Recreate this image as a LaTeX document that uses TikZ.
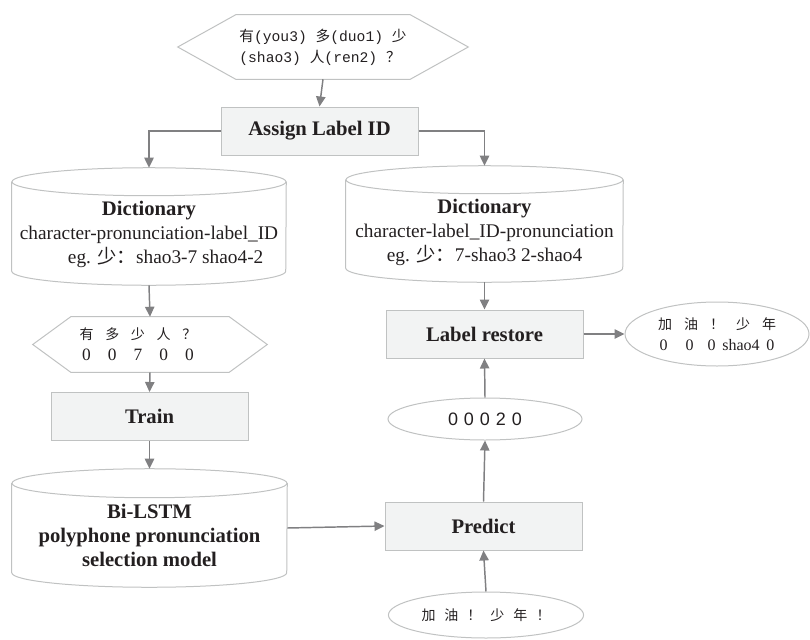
\documentclass[tikz,border=0pt]{standalone}
\usepackage{fontspec}
\setmainfont{Liberation Serif}
\newfontfamily\cjk{Noto Sans CJK SC}
\newfontfamily\arial{Liberation Sans}
\newfontfamily\mono{Liberation Mono}
\usetikzlibrary{arrows.meta,calc,shapes.geometric}
\definecolor{boxfill}{RGB}{242,243,243}
\definecolor{boxline}{RGB}{192,194,194}
\definecolor{arrowc}{RGB}{128,128,130}
\definecolor{txt}{RGB}{35,31,32}
\newcommand\cw[2]{\makebox[#1]{#2}}
\newcommand\cylout[3]{%
  \draw[outline] ($(#1.north west)+(0,-#3)$) -- ($(#1.south west)+(0,#3)$)
    arc[start angle=180,end angle=360,x radius=#2*0.75pt,y radius=#3*0.75pt]
    -- ($(#1.north east)+(0,-#3)$);
  \draw[outline] ($(#1.north)+(0,-#3)$) ellipse[x radius=#2*0.75pt,y radius=#3*0.75pt];}
\newcommand\hexout[2]{%
  \draw[outline] (#1.west) -- ($(#1.north west)+(#2,0)$) -- ($(#1.north east)+(-#2,0)$)
    -- (#1.east) -- ($(#1.south east)+(-#2,0)$) -- ($(#1.south west)+(#2,0)$) -- cycle;}
\tikzset{
  outline/.style={draw=boxline, line width=0.75pt},
  procbox/.style={rectangle, draw=boxline, fill=boxfill, line width=0.75pt,
    minimum width=147.75pt, minimum height=36pt, inner sep=0pt, text=txt,
    font=\fontsize{15.5}{18}\selectfont\bfseries},
  shapebox/.style={inner sep=0pt, text=txt},
  dtext/.style={inner sep=0pt, text=txt, align=center, font=\fontsize{14.5}{18}\selectfont},
  btext/.style={inner sep=0pt, text=txt, align=center, font=\fontsize{15.5}{18}\selectfont\bfseries},
  ell/.style={ellipse, draw=boxline, line width=0.75pt, inner sep=0pt, text=txt},
  arr/.style={draw=arrowc, line width=1.1pt, -{Triangle[length=7.5pt,width=7pt]}}
}
\begin{document}
\begin{tikzpicture}[x=0.75pt,y=0.75pt]
\useasboundingbox (0,0) rectangle (810,-639);
% top hexagon
\node[shapebox, minimum width=290*0.75pt, minimum height=64*0.75pt, align=left,
  font=\fontsize{11}{15.75}\selectfont] (hexTop) at (323,-47)
  {{\cjk 有}{\mono (you3) }{\cjk 多}{\mono (duo1) }{\cjk 少}\\{\mono (shao3) }{\cjk 人}{\mono (ren2) }{\cjk ？}};
\hexout{hexTop}{58}
% assign
\node[procbox] (assign) at (319.5,-131) {Assign Label ID};
% left dictionary
\node[shapebox, minimum width=274*0.75pt, minimum height=117*0.75pt] (dictL) at (149,-226.5) {};
\cylout{dictL}{137}{14}
\node[dtext] (dictLtxt) at (149,-234) {{\bfseries\fontsize{15.5}{18}\selectfont Dictionary}\\character-pronunciation-label\_ID\\\hspace*{25pt}eg. {\cjk 少：}shao3-7 shao4-2};
% right dictionary
\node[shapebox, minimum width=277*0.75pt, minimum height=116*0.75pt] (dictR) at (484.5,-224) {};
\cylout{dictR}{138.5}{14}
\node[dtext] (dictRtxt) at (484.5,-232) {{\bfseries\fontsize{15.5}{18}\selectfont Dictionary}\\character-label\_ID-pronunciation\\eg. {\cjk 少：}7-shao3 2-shao4};
% left hexagon
\node[shapebox, minimum width=234*0.75pt, minimum height=55*0.75pt, align=center,
  font=\fontsize{10.5}{15.75}\selectfont] (hexL) at (150,-344.5)
  {{\cjk\cw{19.3pt}{有}\cw{19.3pt}{多}\cw{19.3pt}{少}\cw{19.3pt}{人}\cw{19.3pt}{？}}\hspace*{18pt}\\
   {\fontsize{13}{15.75}\selectfont\cw{19.3pt}{0}\cw{19.3pt}{0}\cw{19.3pt}{7}\cw{19.3pt}{0}\cw{19.3pt}{0}}\hspace*{18pt}};
\hexout{hexL}{38}
% train
\node[procbox] (train) at (149.5,-416.5) {Train};
% bi-lstm
\node[shapebox, minimum width=275*0.75pt, minimum height=118*0.75pt] (bilstm) at (149.5,-528) {};
\cylout{bilstm}{137.5}{14.5}
\node[btext] (bilstmtxt) at (149.5,-535) {Bi-LSTM\\polyphone pronunciation\\selection model};
% right column
\node[procbox] (restore) at (484.5,-334) {Label restore};
\node[ell, minimum width=184*0.75pt, minimum height=64*0.75pt, align=center,
  font=\fontsize{12}{15.75}\selectfont] (result) at (717,-334)
  {{\cjk\fontsize{10.5}{15.75}\selectfont\cw{19.5pt}{加}\cw{19.5pt}{油}\cw{19.5pt}{！}\cw{19.5pt}{少}\cw{19.5pt}{年}}\\
   0\hspace{13.5pt}0\hspace{10.5pt}0\hspace{5pt}shao4\hspace{5pt}0};
\node[ell, minimum width=194*0.75pt, minimum height=42*0.75pt,
  font=\arial\fontsize{13.5}{16}\selectfont] (code) at (485,-419)
  {\cw{12pt}{0}\cw{12pt}{0}\cw{12pt}{0}\cw{12pt}{2}\cw{12pt}{0}};
\node[procbox] (predict) at (483.5,-526) {Predict};
\node[ell, minimum width=192*0.75pt, minimum height=46*0.75pt,
  font=\cjk\fontsize{10.5}{15}\selectfont] (input) at (486,-615)
  {\cw{17.25pt}{加}\cw{17.25pt}{油}\cw{17.25pt}{！}\cw{17.25pt}{少}\cw{17.25pt}{年}\cw{17.25pt}{！}};
% connectors
\draw[arr] (hexTop.south) -- (assign.north);
\draw[arr] (assign.west) -| (dictL.north);
\draw[arr] (assign.east) -| (dictR.north);
\draw[arr] (dictL.south) -- (hexL.north);
\draw[arr] (hexL.south) -- (train.north);
\draw[arr] (train.south) -- (bilstm.north);
\draw[arr] (bilstm.east) -- (predict.west);
\draw[arr] (dictR.south) -- (restore.north);
\draw[arr] (restore.east) -- (result.west);
\draw[arr] (predict.north) -- (code.south);
\draw[arr] (code.north) -- (restore.south);
\draw[arr] (input.north) -- (predict.south);
\end{tikzpicture}
\end{document}
